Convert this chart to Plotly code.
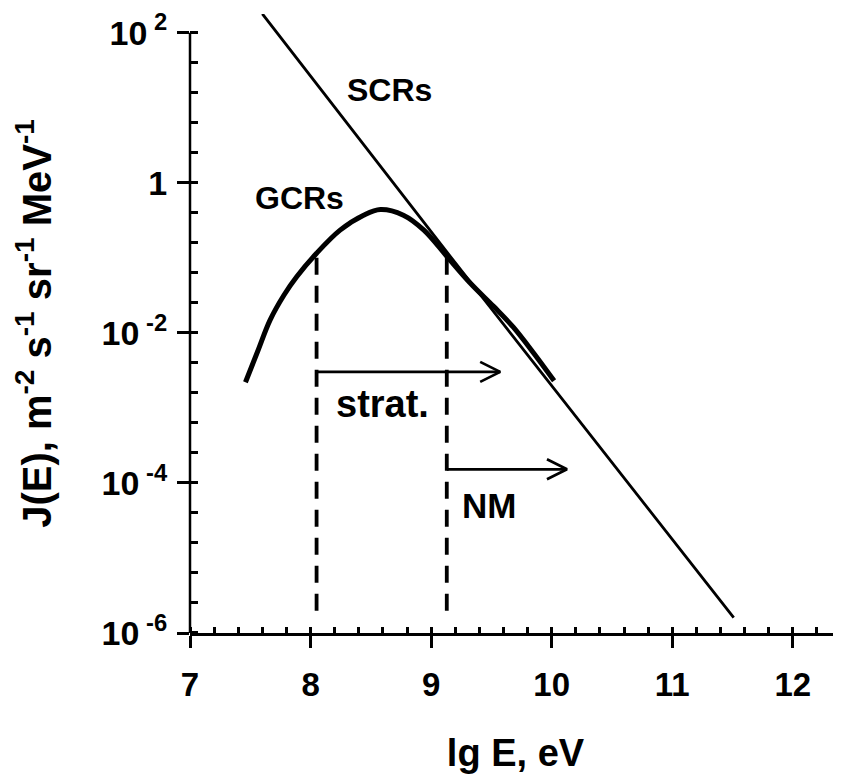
import plotly.graph_objects as go
import numpy as np

# ---------------- data ----------------
# GCR spectrum (thick curve): lg E [eV] and J(E)
gcr_lgE = [7.46, 7.56, 7.664, 7.78, 7.885, 8.05, 8.245, 8.44, 8.58, 8.77, 8.94,
           9.13, 9.32, 9.52, 9.68, 9.85, 10.02]
gcr_J = [2.2e-3, 5.6e-3, 1.48e-2, 3.2e-2, 5.6e-2, 0.115, 0.234, 0.37, 0.44, 0.37, 0.234,
         0.105, 0.047, 0.0224, 0.012, 5.4e-3, 2.3e-3]

# SCR spectrum (thin line)
scr_lgE = [7.60, 9.13, 11.51]
scr_J = [179, 0.12, 1.6e-6]

# detection thresholds (dashed verticals): stratosphere, neutron monitor
threshold_lgE = [8.05, 9.13]
threshold_top_J = 0.1
threshold_bottom_J = 1.48e-6

# range arrows
arrow_start_lgE = [8.05, 9.13]
arrow_end_lgE = [9.573, 10.127]
arrow_J = [3.02e-3, 1.52e-4]

# axis ticks
x_tickvals = [7, 8, 9, 10, 11, 12]
x_minor_vals = [7 + 0.2 * k + 1e-4 for k in range(28)]
y_tickvals = [1e-6, 1e-4, 1e-2, 1, 1e2]
y_ticktext = ["10<sup> -6</sup>", "10<sup> -4</sup>", "10<sup> -2</sup>", "1", "10<sup> 2</sup>"]
y_minor_vals = [10 ** (-6 + 0.4 * k) * 1.0002 for k in range(21)]

# text labels
labels = ["SCRs", "GCRs", "strat.", "NM"]
label_lgE = [8.651, 7.909, 8.598, 9.481]
label_J = [10 ** 1.233, 10 ** -0.207, 10 ** -2.947, 10 ** -4.30]
label_size = [32, 32, 38, 35]

FONT = "Liberation Sans, Arial, sans-serif"

fig = go.Figure()

# SCR line
fig.add_trace(go.Scatter(x=scr_lgE, y=scr_J, mode="lines",
                         line=dict(color="black", width=2.8), hoverinfo="skip"))
# GCR curve
fig.add_trace(go.Scatter(x=gcr_lgE, y=gcr_J, mode="lines",
                         line=dict(color="black", width=5, shape="spline", smoothing=1.0),
                         hoverinfo="skip"))

# dashed threshold lines
for xv in threshold_lgE:
    fig.add_trace(go.Scatter(x=[xv, xv], y=[threshold_top_J, threshold_bottom_J], mode="lines",
                             line=dict(color="black", width=3.8, dash="17px,11px"),
                             hoverinfo="skip"))

# arrows (shaft + open chevron head)
head_dx = 0.166          # arrowhead length in lg E units
head_fy = 10 ** 0.133    # arrowhead half-height as a factor on the log axis
for x0, x1, yv in zip(arrow_start_lgE, arrow_end_lgE, arrow_J):
    fig.add_trace(go.Scatter(
        x=[x0, x1, None, x1 - head_dx, x1, x1 - head_dx],
        y=[yv, yv, None, yv * head_fy, yv, yv / head_fy],
        mode="lines", line=dict(color="black", width=2.7), hoverinfo="skip"))

# text labels
for t, xv, yv, s in zip(labels, label_lgE, label_J, label_size):
    fig.add_annotation(x=xv, y=np.log10(yv), text=t, showarrow=False,
                       font=dict(family=FONT, size=s, color="black", weight="bold"),
                       xanchor="center", yanchor="middle")

# y axis line only from 1e-6 to 1e2
ymin, ymax = -6, 2.25
fig.add_shape(type="line", xref="x domain", yref="y domain",
              x0=0, x1=0, y0=0, y1=(2 - ymin) / (ymax - ymin),
              line=dict(color="black", width=2.5))

fig.update_layout(
    width=833, height=767,
    margin=dict(l=182, r=0, t=6, b=142),
    template="none",
    plot_bgcolor="white", paper_bgcolor="white",
    showlegend=False,
    font=dict(family=FONT, color="black"),
)

fig.update_xaxes(
    range=[7, 12.4], automargin=False,
    showline=True, linecolor="black", linewidth=2.5,
    showgrid=False, zeroline=False,
    ticks="outside", ticklen=12, tickwidth=2.5, tickcolor="black",
    tickvals=x_tickvals,
    tickfont=dict(family=FONT, size=33, color="black", weight="bold"),
    ticklabelstandoff=9,
    minor=dict(ticks="inside", ticklen=6, tickwidth=2.5, tickcolor="black",
               tickvals=x_minor_vals, showgrid=False),
    title=dict(text="lg E, eV", font=dict(family=FONT, size=38, color="black", weight="bold"),
               standoff=38),
)

fig.update_yaxes(
    type="log", range=[ymin, ymax], automargin=False,
    showline=False, showgrid=False, zeroline=False,
    ticks="outside", ticklen=12, tickwidth=2.5, tickcolor="black",
    tickvals=y_tickvals, ticktext=y_ticktext,
    tickfont=dict(family=FONT, size=34, color="black", weight="bold"),
    ticklabelstandoff=3,
    minor=dict(ticks="inside", ticklen=8, tickwidth=2.5, tickcolor="black",
               tickvals=y_minor_vals, showgrid=False),
    title=dict(text="J(E), m<sup>-2</sup> s<sup>-1</sup> sr<sup>-1</sup> MeV<sup>-1</sup>",
               font=dict(family=FONT, size=40, color="black", weight="bold"),
               standoff=37),
)

fig.write_html("out.html")
